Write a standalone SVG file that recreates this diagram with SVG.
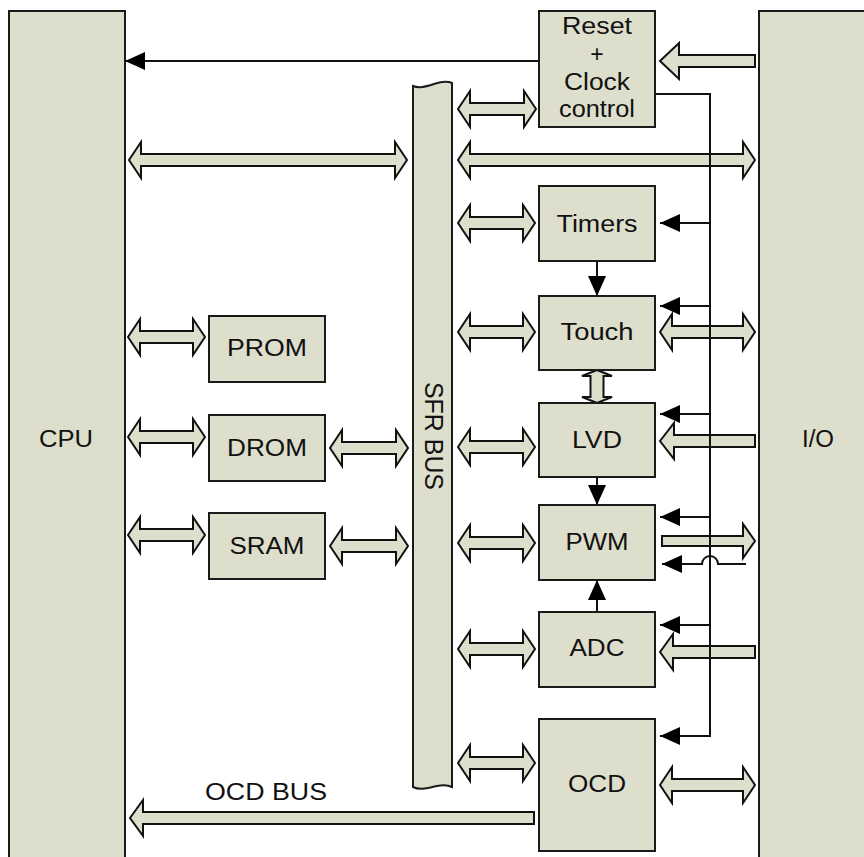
<svg xmlns="http://www.w3.org/2000/svg" width="864" height="857" viewBox="0 0 864 857">
<style>
.box{fill:#DDDECB;stroke:#1a1a1a;stroke-width:2}
.bus{fill:#DDDECB;stroke:#111;stroke-width:2;stroke-linejoin:miter}
.sig{fill:none;stroke:#111;stroke-width:2}
.t{font-family:"Liberation Sans",Arial,sans-serif;font-size:23px;fill:#111;text-anchor:middle}
</style>
<defs>
<marker id="ah" markerUnits="userSpaceOnUse" markerWidth="20" markerHeight="18" viewBox="0 0 20 18" refX="20" refY="9" orient="auto">
<path d="M0,0 L20,9 L0,18 z" fill="#000"/>
</marker>
</defs>
<rect width="864" height="857" fill="#fff"/>

<g id="cpu"><rect class="box" x="9" y="11" width="116" height="860"/><text class="t" x="66" y="447" textLength="54" lengthAdjust="spacingAndGlyphs">CPU</text></g>
<g id="io"><rect class="box" x="759" y="11" width="120" height="860"/><text class="t" x="818" y="447" textLength="32" lengthAdjust="spacingAndGlyphs">I/O</text></g>
<g id="sfrbus"><path class="box" d="M413,86 C425,91 440,78 452,83 L452,787 C440,781 425,793 413,787 Z"/><text class="t" style="font-size:25px" transform="translate(425,436) rotate(90)" textLength="108" lengthAdjust="spacingAndGlyphs">SFR BUS</text></g>

<g id="connectors">
<g class="bus">
<polygon points="129,160 141,142 141,154 395,154 395,142 407,160 395,178 395,166 141,166 141,178"/>
<polygon points="458,160 470,142 470,154 743,154 743,142 755,160 743,178 743,166 470,166 470,178"/>
<polygon points="458,109 470,91 470,103 524,103 524,91 536,109 524,127 524,115 470,115 470,127"/>
<polygon points="458,223 470,205 470,217 523,217 523,205 535,223 523,241 523,229 470,229 470,241"/>
<polygon points="458,332 470,314 470,326 523,326 523,314 535,332 523,350 523,338 470,338 470,350"/>
<polygon points="660,332 672,314 672,326 743,326 743,314 755,332 743,350 743,338 672,338 672,350"/>
<polygon points="458,447 470,429 470,441 523,441 523,429 535,447 523,465 523,453 470,453 470,465"/>
<polygon points="458,543 470,525 470,537 523,537 523,525 535,543 523,561 523,549 470,549 470,561"/>
<polygon points="458,649 470,631 470,643 523,643 523,631 535,649 523,667 523,655 470,655 470,667"/>
<polygon points="458,763 470,745 470,757 523,757 523,745 535,763 523,781 523,769 470,769 470,781"/>
<polygon points="660,785 672,767 672,779 743,779 743,767 755,785 743,803 743,791 672,791 672,803"/>
<polygon points="128,337 140,319 140,331 193,331 193,319 205,337 193,355 193,343 140,343 140,355"/>
<polygon points="128,437 140,419 140,431 193,431 193,419 205,437 193,455 193,443 140,443 140,455"/>
<polygon points="128,535 140,517 140,529 193,529 193,517 205,535 193,553 193,541 140,541 140,553"/>
<polygon points="330,448 342,430 342,442 396,442 396,430 408,448 396,466 396,454 342,454 342,466"/>
<polygon points="330,546 342,528 342,540 396,540 396,528 408,546 396,564 396,552 342,552 342,564"/>
<polygon points="597,370 612,376 603.5,376 603.5,397 612,397 597,403 582,397 590.5,397 590.5,376 582,376"/>
<polygon points="660,61 679,43 679,55 755,55 755,67 679,67 679,79"/>
<polygon points="660,441 674,423 674,435 755,435 755,447 674,447 674,459"/>
<polygon points="660,652 673,634 673,646 755,646 755,658 673,658 673,670"/>
<polygon points="130,818 143,800 143,812 534,812 534,824 143,824 143,836"/>
<polygon points="662,536 743,536 743,524 755,541 743,558 743,546 662,546"/>
</g>
<g class="sig">
<path d="M539,61 H125" marker-end="url(#ah)"/>
<path d="M655,94 H710 V736 H660" marker-end="url(#ah)"/>
<path d="M710,223 H660" marker-end="url(#ah)"/>
<path d="M710,306 H660" marker-end="url(#ah)"/>
<path d="M710,414 H660" marker-end="url(#ah)"/>
<path d="M710,517 H660" marker-end="url(#ah)"/>
<path d="M710,625 H660" marker-end="url(#ah)"/>
<path d="M746,564 H718 A8,8 0 0 0 702,564 H662" marker-end="url(#ah)"/>
<path d="M597,261 V296" marker-end="url(#ah)"/>
<path d="M597,477 V505" marker-end="url(#ah)"/>
<path d="M597,612 V580" marker-end="url(#ah)"/>
</g>
<text class="t" x="266" y="800" textLength="122" lengthAdjust="spacingAndGlyphs">OCD BUS</text>
</g>

<g id="reset"><rect class="box" x="539" y="11" width="116" height="116"/>
<text class="t" x="597" y="34" textLength="70" lengthAdjust="spacingAndGlyphs">Reset</text>
<text class="t" x="597" y="62">+</text>
<text class="t" x="597" y="90" textLength="66" lengthAdjust="spacingAndGlyphs">Clock</text>
<text class="t" x="597" y="117" textLength="76" lengthAdjust="spacingAndGlyphs">control</text></g>
<g id="timers"><rect class="box" x="539" y="186" width="116" height="75"/><text class="t" x="597" y="232" textLength="81" lengthAdjust="spacingAndGlyphs">Timers</text></g>
<g id="touch"><rect class="box" x="539" y="296" width="116" height="74"/><text class="t" x="597" y="340" textLength="73" lengthAdjust="spacingAndGlyphs">Touch</text></g>
<g id="lvd"><rect class="box" x="539" y="403" width="116" height="74"/><text class="t" x="597" y="448" textLength="50" lengthAdjust="spacingAndGlyphs">LVD</text></g>
<g id="pwm"><rect class="box" x="539" y="505" width="116" height="75"/><text class="t" x="597" y="550" textLength="63" lengthAdjust="spacingAndGlyphs">PWM</text></g>
<g id="adc"><rect class="box" x="539" y="612" width="116" height="75"/><text class="t" x="597" y="656" textLength="55" lengthAdjust="spacingAndGlyphs">ADC</text></g>
<g id="ocd"><rect class="box" x="539" y="719" width="116" height="132"/><text class="t" x="597" y="792" textLength="58" lengthAdjust="spacingAndGlyphs">OCD</text></g>
<g id="prom"><rect class="box" x="209" y="316" width="116" height="66"/><text class="t" x="267" y="356" textLength="80" lengthAdjust="spacingAndGlyphs">PROM</text></g>
<g id="drom"><rect class="box" x="209" y="415" width="116" height="66"/><text class="t" x="267" y="456" textLength="80" lengthAdjust="spacingAndGlyphs">DROM</text></g>
<g id="sram"><rect class="box" x="209" y="513" width="116" height="66"/><text class="t" x="267" y="554" textLength="75" lengthAdjust="spacingAndGlyphs">SRAM</text></g>
</svg>
